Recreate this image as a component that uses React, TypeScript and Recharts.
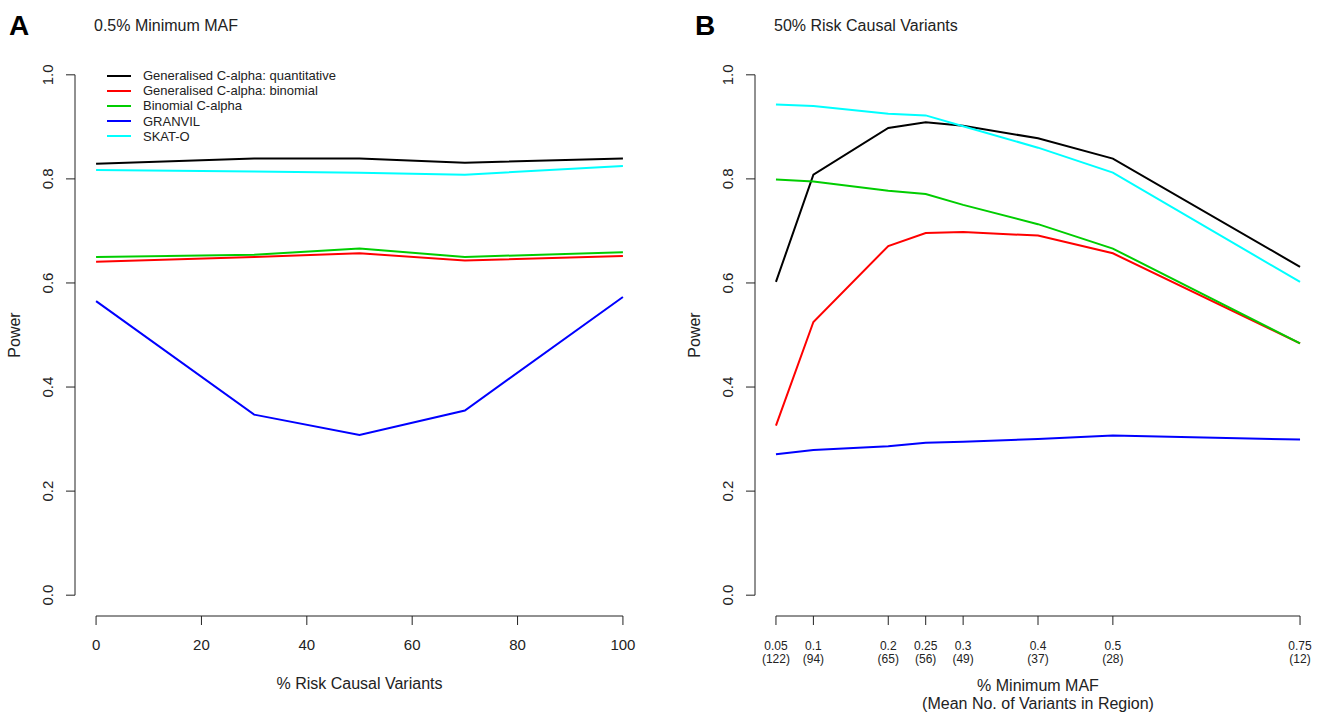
import { Label, Legend, Line, LineChart, ReferenceLine, XAxis, YAxis } from 'recharts';

// panel A: power vs % risk causal variants (0.5% min MAF)
const riskPct = [0, 30, 50, 70, 100];
const quantA = [0.829, 0.839, 0.839, 0.831, 0.839];
const binomA = [0.641, 0.65, 0.657, 0.643, 0.652];
const binCA = [0.65, 0.654, 0.666, 0.65, 0.659];
const granvilA = [0.565, 0.347, 0.308, 0.355, 0.573];
const skatA = [0.817, 0.814, 0.812, 0.808, 0.825];

// panel B: power vs minimum MAF (50% risk causal variants)
const minMaf = [0.05, 0.1, 0.2, 0.25, 0.3, 0.4, 0.5, 0.75];
const variantCounts = ['(122)', '(94)', '(65)', '(56)', '(49)', '(37)', '(28)', '(12)'];
const quantB = [0.602, 0.808, 0.898, 0.909, 0.902, 0.878, 0.839, 0.631];
const binomB = [0.326, 0.525, 0.671, 0.696, 0.698, 0.691, 0.657, 0.484];
const binCB = [0.799, 0.795, 0.777, 0.771, 0.75, 0.713, 0.666, 0.484];
const granvilB = [0.271, 0.279, 0.286, 0.293, 0.295, 0.3, 0.307, 0.299];
const skatB = [0.943, 0.94, 0.925, 0.922, 0.901, 0.86, 0.812, 0.602];

const xTicksA = [0, 20, 40, 60, 80, 100];
const yTicks = [0, 0.2, 0.4, 0.6, 0.8, 1.0];

const SERIES = [
  { key: 'quant', name: 'Generalised C-alpha: quantitative', color: '#000000' },
  { key: 'binom', name: 'Generalised C-alpha: binomial', color: '#ff0000' },
  { key: 'binC', name: 'Binomial C-alpha', color: '#00cd00' },
  { key: 'granvil', name: 'GRANVIL', color: '#0000ff' },
  { key: 'skat', name: 'SKAT-O', color: '#00ffff' },
];

const dataA = riskPct.map((x, i) => ({
  x,
  quant: quantA[i],
  binom: binomA[i],
  binC: binCA[i],
  granvil: granvilA[i],
  skat: skatA[i],
}));

const dataB = minMaf.map((x, i) => ({
  x,
  quant: quantB[i],
  binom: binomB[i],
  binC: binCB[i],
  granvil: granvilB[i],
  skat: skatB[i],
}));

// R-style 4% padding around the data range
const yDomain = [-0.04, 1.04];
const xDomainA = [-4, 104];
const padB = (minMaf[minMaf.length - 1] - minMaf[0]) * 0.04;
const xDomainB = [minMaf[0] - padB, minMaf[minMaf.length - 1] + padB];

const AX = '#222';
const FONT = '"Liberation Sans", Arial, Helvetica, sans-serif';

const RotatedYTick = (props: any) => {
  const { x, y, payload } = props;
  return (
    <text x={x} y={y} transform={`rotate(-90 ${x} ${y})`} textAnchor="middle" fontSize={15} fill={AX}>
      {Number(payload.value).toFixed(1)}
    </text>
  );
};

const MafTick = (props: any) => {
  const { x, y, payload } = props;
  const i = minMaf.indexOf(payload.value);
  return (
    <text x={x} y={y} textAnchor="middle" fontSize={12} fill={AX}>
      <tspan x={x} dy={25}>{payload.value}</tspan>
      <tspan x={x} dy={13}>{variantCounts[i]}</tspan>
    </text>
  );
};

const PowerTitle = (props: any) => {
  const { viewBox } = props;
  const cx = viewBox.x + 20;
  const cy = viewBox.y + viewBox.height / 2;
  return (
    <text x={cx} y={cy} transform={`rotate(-90 ${cx} ${cy})`} textAnchor="middle" fontSize={16} fill={AX}>
      Power
    </text>
  );
};

const RiskTitle = (props: any) => {
  const { viewBox } = props;
  return (
    <text x={viewBox.x + viewBox.width / 2} y={viewBox.y + 73} textAnchor="middle" fontSize={16} fill={AX}>
      % Risk Causal Variants
    </text>
  );
};

const MafTitle = (props: any) => {
  const { viewBox } = props;
  const cx = viewBox.x + viewBox.width / 2;
  return (
    <text x={cx} y={viewBox.y + 75} textAnchor="middle" fontSize={16} fill={AX}>
      <tspan x={cx}>% Minimum MAF</tspan>
      <tspan x={cx} dy={18}>(Mean No. of Variants in Region)</tspan>
    </text>
  );
};

const LegendBox = () => (
  <div style={{ fontFamily: FONT, fontSize: 13, color: AX }}>
    {SERIES.map((s) => (
      <div key={s.key} style={{ display: 'flex', alignItems: 'center', height: 15.2 }}>
        <svg width={24} height={4}>
          <line x1={0} y1={2} x2={24} y2={2} stroke={s.color} strokeWidth={2} />
        </svg>
        <span style={{ marginLeft: 12, whiteSpace: 'nowrap' }}>{s.name}</span>
      </div>
    ))}
  </div>
);

function seriesLines() {
  return SERIES.map((s) => (
    <Line
      key={s.key}
      type="linear"
      dataKey={s.key}
      name={s.name}
      stroke={s.color}
      strokeWidth={2}
      dot={false}
      activeDot={false}
      isAnimationActive={false}
    />
  ));
}

export default function App() {
  return (
    <div style={{ position: 'absolute', left: 0, top: 0, width: 1324, height: 712, background: '#fff', fontFamily: FONT }}>
      <svg width={1324} height={712} style={{ position: 'absolute', left: 0, top: 0, pointerEvents: 'none' }}>
        <text x={9} y={35} fontSize={28} fontWeight="bold" fill="#000">A</text>
        <text x={94} y={31} fontSize={16} fill={AX}>0.5% Minimum MAF</text>
        <text x={695} y={35} fontSize={28} fontWeight="bold" fill="#000">B</text>
        <text x={774} y={31} fontSize={16} fill={AX}>50% Risk Causal Variants</text>
      </svg>

      <div style={{ position: 'absolute', left: 0, top: 0 }}>
        <LineChart width={660} height={712} data={dataA} margin={{ top: 54, right: 16, bottom: 16, left: 0 }}>
          <XAxis
            type="number"
            dataKey="x"
            domain={xDomainA}
            ticks={xTicksA}
            axisLine={false}
            tickLine={{ stroke: AX }}
            tickSize={9}
            tickMargin={14}
            tick={{ fontSize: 15, fill: AX }}
            height={80}
          >
            <Label content={RiskTitle} />
          </XAxis>
          <YAxis
            type="number"
            domain={yDomain}
            ticks={yTicks}
            axisLine={false}
            tickLine={{ stroke: AX }}
            tickSize={9}
            tickMargin={13}
            tick={RotatedYTick}
            width={75}
          >
            <Label content={PowerTitle} />
          </YAxis>
          <ReferenceLine
            segment={[{ x: xTicksA[0], y: yDomain[0] }, { x: xTicksA[xTicksA.length - 1], y: yDomain[0] }]}
            stroke={AX}
            ifOverflow="visible"
          />
          <ReferenceLine
            segment={[{ x: xDomainA[0], y: yTicks[0] }, { x: xDomainA[0], y: yTicks[yTicks.length - 1] }]}
            stroke={AX}
            ifOverflow="visible"
          />
          <Legend
            layout="vertical"
            align="center"
            verticalAlign="middle"
            content={LegendBox}
            wrapperStyle={{ top: 68, left: 107, width: 'auto' }}
          />
          {seriesLines()}
        </LineChart>
      </div>

      <div style={{ position: 'absolute', left: 680, top: 0 }}>
        <LineChart width={644} height={712} data={dataB} margin={{ top: 54, right: 3, bottom: 16, left: 0 }}>
          <XAxis
            type="number"
            dataKey="x"
            domain={xDomainB}
            ticks={minMaf}
            axisLine={false}
            tickLine={{ stroke: AX }}
            tickSize={9}
            tickMargin={0}
            tick={MafTick}
            height={80}
            interval={0}
          >
            <Label content={MafTitle} />
          </XAxis>
          <YAxis
            type="number"
            domain={yDomain}
            ticks={yTicks}
            axisLine={false}
            tickLine={{ stroke: AX }}
            tickSize={9}
            tickMargin={13}
            tick={RotatedYTick}
            width={75}
          >
            <Label content={PowerTitle} />
          </YAxis>
          <ReferenceLine
            segment={[{ x: minMaf[0], y: yDomain[0] }, { x: minMaf[minMaf.length - 1], y: yDomain[0] }]}
            stroke={AX}
            ifOverflow="visible"
          />
          <ReferenceLine
            segment={[{ x: xDomainB[0], y: yTicks[0] }, { x: xDomainB[0], y: yTicks[yTicks.length - 1] }]}
            stroke={AX}
            ifOverflow="visible"
          />
          {seriesLines()}
        </LineChart>
      </div>
    </div>
  );
}
